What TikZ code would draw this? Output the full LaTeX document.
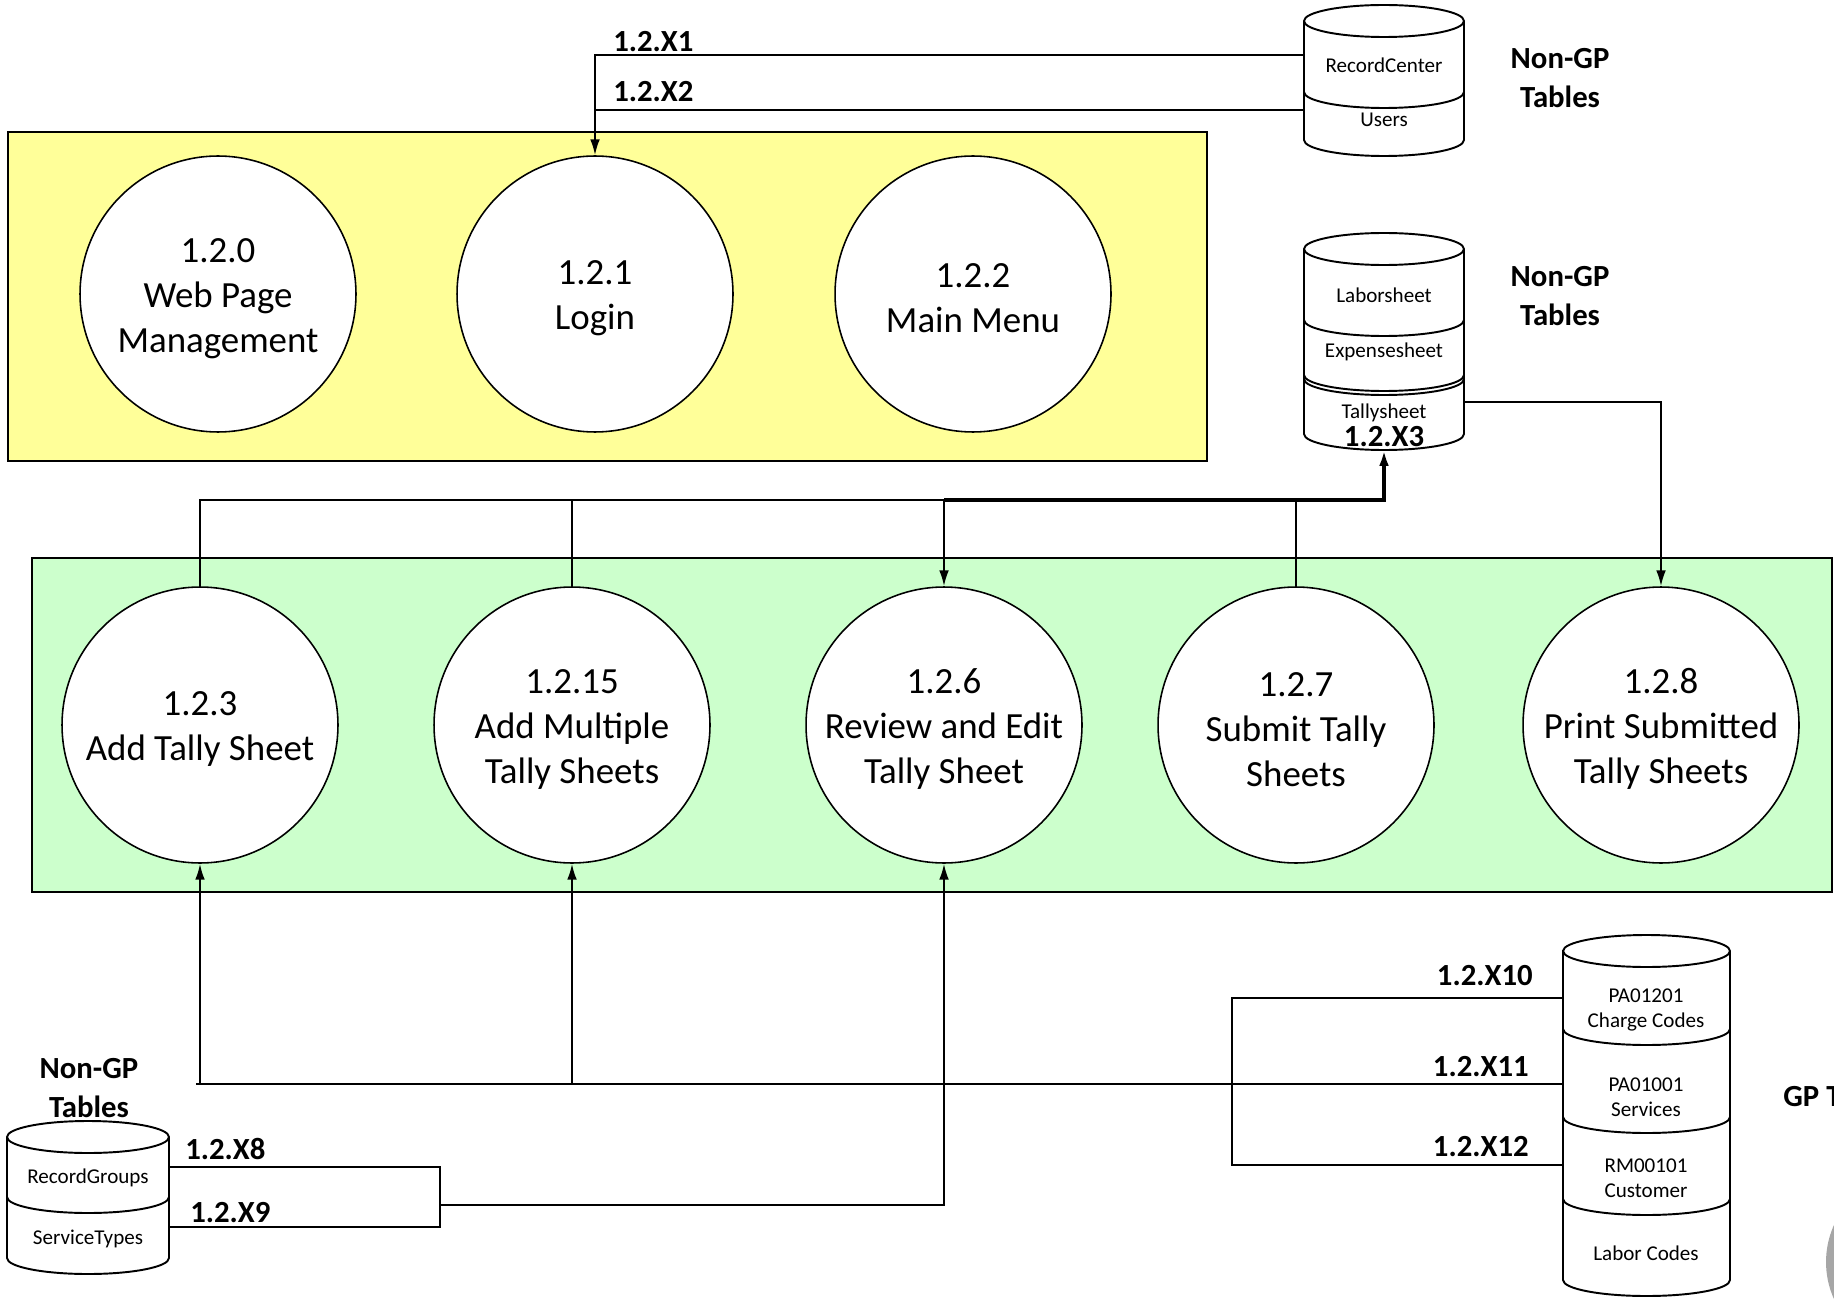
\documentclass[tikz,border=0pt]{standalone}
\usepackage{fontspec}
\setsansfont{Carlito}
\usetikzlibrary{arrows.meta, calc}

\definecolor{procyellow}{HTML}{FFFF99}
\definecolor{procgreen}{HTML}{CCFFCC}

% first line strut for process circles
\newcommand{\proctop}{\rule{0pt}{18.5pt}}

% stacked table store: left, right, top, bottom, dividers
\newcommand{\dbstack}[5]{%
	\pgfmathsetmacro\dbrx{(#2-#1)/2}
	\filldraw[dbbody] (#1,#3) -- (#1,#4) arc[start angle=180, end angle=0, x radius=\dbrx, y radius=\dbry]
		-- (#2,#3) arc[start angle=0, end angle=-180, x radius=\dbrx, y radius=\dbry] -- cycle;
	\draw[db] (#1,#3) arc[start angle=180, end angle=0, x radius=\dbrx, y radius=\dbry];
	\foreach \d in {#5} {
		\draw[db] (#1,\d) arc[start angle=180, end angle=0, x radius=\dbrx, y radius=\dbry];
	}
}

\begin{document}
\begin{tikzpicture}[x=0.02cm, y=-0.02cm, font=\sffamily,
	box/.style={draw, line width=1.2pt},
	proc/.style={circle, draw, line width=0.9pt, fill=white, minimum size=5.52cm, inner sep=0pt, align=center, font=\sffamily\fontsize{21}{25.6}\selectfont},
	dbbody/.style={draw, line width=1.1pt, fill=white},
	db/.style={draw, line width=1.1pt},
	dbtxt/.style={align=center, font=\sffamily\fontsize{12}{14}\selectfont},
	flowlbl/.style={inner sep=0pt, font=\sffamily\bfseries\fontsize{17.5}{21.4}\selectfont},
	tbllbl/.style={align=center, inner sep=0pt, font=\sffamily\bfseries\fontsize{17.5}{21.9}\selectfont},
	line/.style={line width=1.1pt},
	flow/.style={line, -{Latex[length=9pt, width=5.5pt]}}]
	\def\dbry{16}
	\useasboundingbox (0,0) rectangle (1834,1300);
	\clip (0,0) rectangle (1834,1300);

	% process groups
	\draw[box, fill=procyellow] (8,132) rectangle (1207,461);
	\draw[box, fill=procgreen] (32,558) rectangle (1832,892);

	\node[proc] (p120) at (218,294) {\proctop 1.2.0\\Web Page\\Management};
	\node[proc] (p121) at (595,294) {\proctop 1.2.1\\Login};
	\node[proc] (p122) at (973,294) {\proctop 1.2.2\\Main Menu};

	\node[proc] (p123) at (200,725) {\proctop 1.2.3\\Add Tally Sheet};
	\node[proc] (p1215) at (572,725) {\proctop 1.2.15\\Add Multiple\\Tally Sheets};
	\node[proc] (p126) at (944,725) {\proctop 1.2.6\\Review and Edit\\Tally Sheet};
	\node[proc] (p127) at (1296,725) {\proctop 1.2.7\\Submit Tally\\Sheets};
	\node[proc] (p128) at (1661,725) {\proctop 1.2.8\\Print Submitted\\Tally Sheets};

	% table stores
	\dbstack{1304}{1464}{21}{140}{92}
	\node[dbtxt] (rc) at (1384,65) {RecordCenter};
	\node[dbtxt] (us) at (1384,120) {Users};
	\node[tbllbl] (ngp1) at (1560,78) {Non-GP\\Tables};

	\dbstack{1304}{1464}{249}{434}{320,375,379}
	\node[dbtxt] (lab) at (1384,295) {Laborsheet};
	\node[dbtxt] (exp) at (1384,352) {Expensesheet};
	\node[dbtxt] (tal) at (1384,413) {Tallysheet};
	\node[tbllbl] (ngp2) at (1560,296) {Non-GP\\Tables};

	\dbstack{7}{169}{1137}{1258}{1197}
	\node[dbtxt] (rg) at (88,1178) {RecordGroups};
	\node[dbtxt] (st) at (88,1239) {ServiceTypes};
	\node[tbllbl] (ngp3) at (89,1088) {Non-GP\\Tables};

	\dbstack{1563}{1730}{951}{1280}{1029,1117,1199}
	\node[dbtxt] (pc) at (1646,1010) {PA01201\\Charge Codes};
	\node[dbtxt] (sv) at (1646,1097) {PA01001\\Services};
	\node[dbtxt] (rm) at (1646,1178) {RM00101\\Customer};
	\node[dbtxt] (lc) at (1646,1253) {Labor Codes};
	\node[tbllbl, anchor=base west] (gp) at (1783,1106) {GP Tables};

	% attach points
	\coordinate (rc-w) at (1304,55);
	\coordinate (us-w) at (1304,110);
	\coordinate (ts-e) at (1464,402);
	\coordinate (ts-s) at (1384,450);
	\coordinate (bus) at (1384,500);
	\coordinate (pc-w) at (1563,998);
	\coordinate (sv-w) at (1563,1084);
	\coordinate (rm-w) at (1563,1165);
	\coordinate (rg-e) at (169,1167);
	\coordinate (st-e) at (169,1227);
	\coordinate (grp) at (440,1205);

	% flows
	\draw[flow] (rc-w) -| (p121.north);
	\draw[line] (us-w) -- (us-w -| p121.north);
	\draw[flow] (ts-e) -| (p128.north);

	\draw[line] (p123.north) |- (bus);
	\draw[line] (p1215.north) -- (p1215.north |- bus);
	\draw[line] (p127.north) -- (p127.north |- bus);
	\draw[flow] (p126.north |- bus) -- (p126.north);
	\draw[flow, line width=1.8pt] (p126.north |- bus) -- (bus) -- (ts-s);

	\draw[line] (sv-w) -- ($(sv-w -| p123.south)+(-4,0)$);
	\draw[flow] (p123.south |- sv-w) -- (p123.south);
	\draw[flow] (p1215.south |- sv-w) -- (p1215.south);
	\draw[line] (pc-w) -- ++(-331,0) |- (rm-w);

	\draw[line] (rg-e) -| (grp |- st-e) -- (st-e);
	\draw[flow] (grp) -| (p126.south);

	% flow labels
	\node[flowlbl, anchor=base west] (x1) at (613,52) {1.2.X1};
	\node[flowlbl, anchor=base west] (x2) at (613,102) {1.2.X2};
	\node[flowlbl, anchor=base] (x3) at (1384,446) {1.2.X3};
	\node[flowlbl, anchor=base west] (x8) at (185,1159) {1.2.X8};
	\node[flowlbl, anchor=base west] (x9) at (190,1222) {1.2.X9};
	\node[flowlbl, anchor=base east] (x10) at (1533,985) {1.2.X10};
	\node[flowlbl, anchor=base east] (x11) at (1529,1076) {1.2.X11};
	\node[flowlbl, anchor=base east] (x12) at (1529,1156) {1.2.X12};

	\fill[gray!70] (1916,1262) circle[radius=90];
\end{tikzpicture}
\end{document}
